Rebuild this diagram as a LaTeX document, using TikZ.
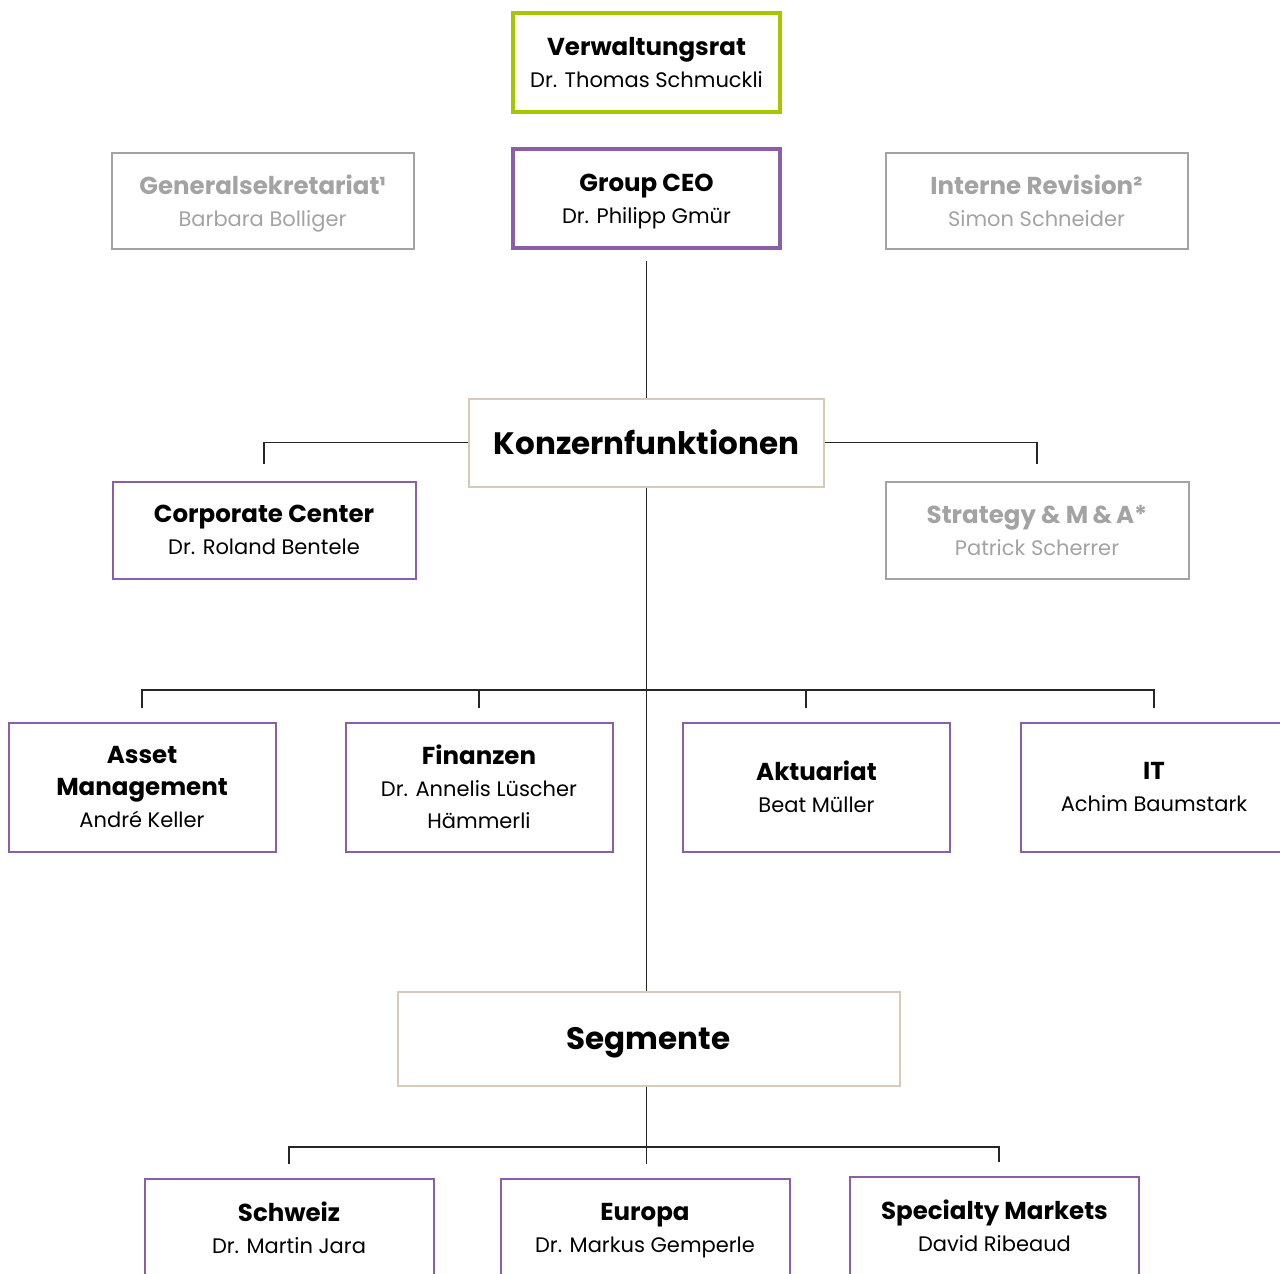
\documentclass[tikz,border=0pt]{standalone}
\usepackage{fontspec}
\setmainfont{Poppins}
\usetikzlibrary{positioning}
\definecolor{boardgreen}{HTML}{A6C700}
\definecolor{execpurple}{HTML}{8A5FA8}
\definecolor{groupbeige}{HTML}{D5CBB8}
\definecolor{staffgray}{HTML}{A3A3A3}
\newcommand{\unithead}[1]{{\fontsize{24.5}{32}\selectfont\bfseries #1}}
\newcommand{\unitlead}[1]{\raisebox{0pt}[\height][0pt]{#1}}
\tikzset
{
    orgbox/.style  = {draw=execpurple, line width=2pt, align=center, inner sep=0pt, minimum width=267pt, minimum height=129pt, font=\fontsize{21}{32}\selectfont},
    topbox/.style  = {orgbox, line width=4pt, minimum height=99pt},
    staffbox/.style = {orgbox, draw=staffgray, text=staffgray, minimum width=302pt, minimum height=96pt},
    groupbox/.style = {orgbox, draw=groupbeige, font=\fontsize{31}{36}\selectfont\bfseries},
    link/.style    = {draw=black!85, line width=1.3pt}
}

\begin{document}
\begin{tikzpicture}[x=1pt, y=-1pt]
    \useasboundingbox (0,0) rectangle (1280,1274);
    % top level
    \node [topbox, draw=boardgreen] (board) at (646.5,62) {\unithead{Verwaltungsrat}\\\unitlead{Dr. Thomas Schmuckli}};
    \node [topbox] (ceo) at (646.5,198.5) {\unithead{Group CEO}\\\unitlead{Dr. Philipp Gmür}};
    \node [staffbox] (gensec) at (262.5,200.5) {\unithead{Generalsekretariat¹}\\\unitlead{Barbara Bolliger}};
    \node [staffbox] (audit) at (1036.5,200.5) {\unithead{Interne Revision²}\\\unitlead{Simon Schneider}};

    % Konzernfunktionen
    \node [groupbox, minimum width=355pt, minimum height=88pt] (konzern) at (646.5,442.5) {\unitlead{Konzernfunktionen}};
    \node [orgbox, minimum width=303pt, minimum height=97pt] (corp) at (264,530) {\unithead{Corporate Center}\\\unitlead{Dr. Roland Bentele}};
    \node [staffbox, minimum width=303pt, minimum height=97pt] (strat) at (1037,530) {\unithead{Strategy \& M\,\&\,A*}\\\unitlead{Patrick Scherrer}};

    \node [orgbox] (asset) at (142,787) {\unithead{Asset}\\\unithead{Management}\\\unitlead{André Keller}};
    \node [orgbox] (fin) at (479,787) {\unithead{Finanzen}\\Dr. Annelis Lüscher\\\unitlead{Hämmerli}};
    \node [orgbox] (akt) at (816.5,787) {\unithead{Aktuariat}\\\unitlead{Beat Müller}};
    \node [orgbox] (it) at (1154,787) {\unithead{IT}\\\unitlead{Achim Baumstark}};

    % Segmente
    \node [groupbox, minimum width=502pt, minimum height=94pt] (seg) at (648.5,1038.5) {\unitlead{Segmente}};
    \node [orgbox, minimum width=289pt, minimum height=98pt] (ch) at (289,1228) {\unithead{Schweiz}\\\unitlead{Dr. Martin Jara}};
    \node [orgbox, minimum width=289pt, minimum height=98pt] (eu) at (645,1228) {\unithead{Europa}\\\unitlead{Dr. Markus Gemperle}};
    \node [orgbox, minimum width=289pt, minimum height=98pt] (spec) at (994.5,1226) {\unithead{Specialty Markets}\\\unitlead{David Ribeaud}};

    \coordinate (kfbar) at (646.5,690);
    \coordinate (segbar) at (646.5,1147);

    % connectors
    \draw [link, shorten <=11pt] (ceo) -- (konzern);
    \draw [link, shorten >=17pt] (konzern.west) -| (corp);
    \draw [link, shorten >=17pt] (konzern.east) -| (strat);
    \draw [link] (konzern) -- (konzern |- seg.north);
    \draw [link, shorten <=14pt, shorten >=14pt] (asset) |- (kfbar) -| (it);
    \draw [link, shorten <=14pt] (fin) -- (fin |- kfbar);
    \draw [link, shorten <=14pt] ([xshift=-10.5pt]akt.north) -- ([xshift=-10.5pt]akt.north |- kfbar);
    \draw [link, shorten <=14pt, shorten >=14pt] (ch) |- (segbar) -| ([xshift=4.5pt]spec.north);
    \draw [link, shorten >=14pt] (konzern |- seg.south) -- (konzern |- eu.north);
\end{tikzpicture}
\end{document}
